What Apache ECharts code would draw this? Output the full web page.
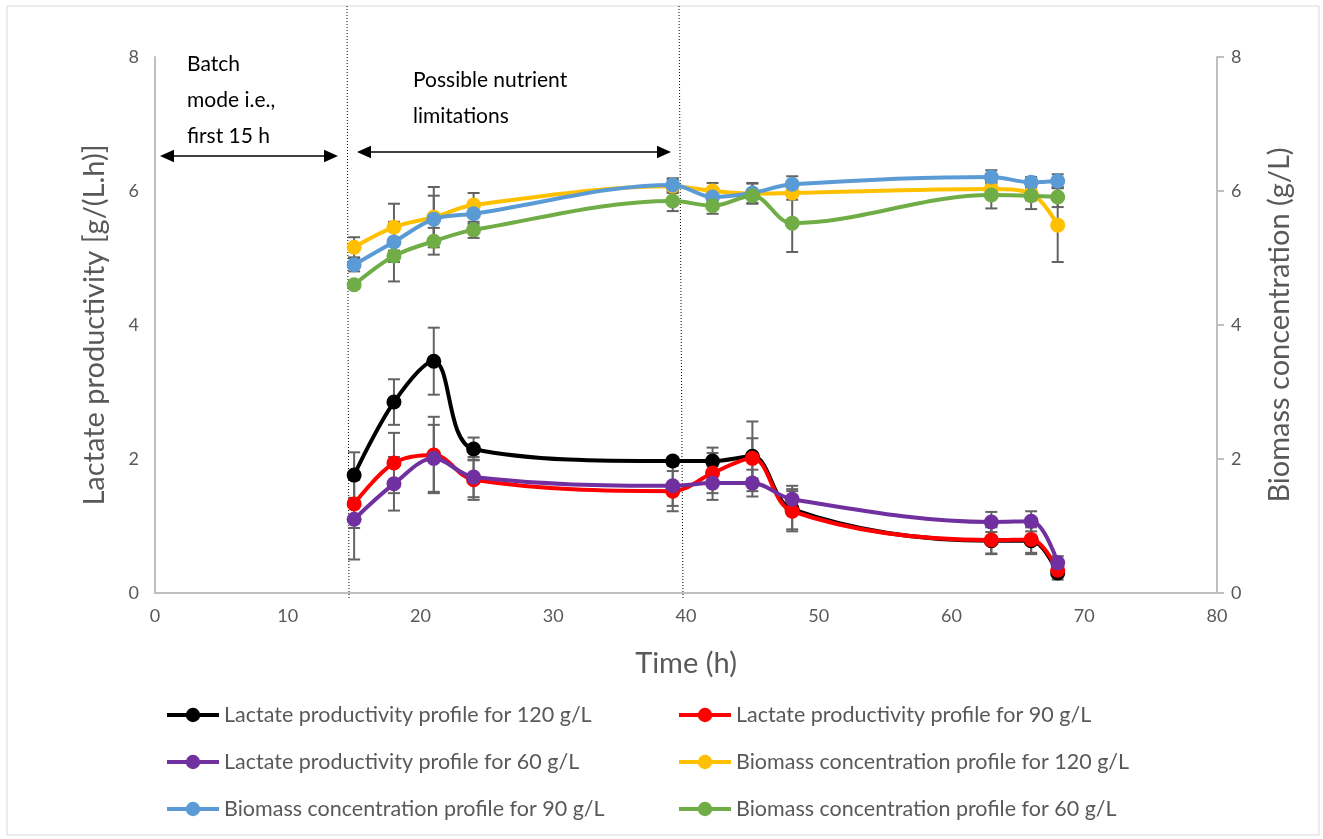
<!DOCTYPE html>
<html lang="en" style="height: 100%">
<head>
    <meta charset="utf-8">
    <title>Lactate productivity and biomass</title>
    <script src="https://cdn.jsdelivr.net/npm/echarts@6.0.0/dist/echarts.min.js"></script>
    <style>
        html, body { margin: 0; padding: 0; background: #fff; }
    </style>
</head>
<body>
<div id="chart" style="width:1323px; height:839px;"></div>

<script type="text/javascript">
    var myChart = echarts.init(document.getElementById('chart'));

    // sampling times (h)
    var times = [15, 18, 21, 24, 39, 42, 45, 48, 63, 66, 68];

    // lactate productivity g/(L.h)
    var lact120 = [1.76, 2.85, 3.46, 2.15, 1.97, 1.97, 2.04, 1.25, 0.78, 0.78, 0.3];
    var lact90  = [1.33, 1.94, 2.06, 1.69, 1.52, 1.79, 2.01, 1.22, 0.79, 0.80, 0.34];
    var lact60  = [1.10, 1.63, 2.01, 1.73, 1.60, 1.64, 1.64, 1.40, 1.06, 1.07, 0.45];
    var lact120Err = [0.34, 0.34, 0.50, 0.17, 0.05, 0.20, 0.52, 0.30, 0.20, 0.20, 0.10];
    var lact90Err  = [0.36, 0.45, 0.57, 0.30, 0.30, 0.30, 0.30, 0.30, 0.20, 0.20, 0.10];
    var lact60Err  = [0.60, 0.40, 0.50, 0.30, 0.30, 0.25, 0.20, 0.20, 0.15, 0.15, 0.10];

    // biomass concentration g/L
    var bio120 = [5.16, 5.46, 5.61, 5.79, 6.07, 6.00, 5.96, 5.97, 6.03, 5.96, 5.49];
    var bio90  = [4.90, 5.24, 5.58, 5.66, 6.09, 5.91, 5.97, 6.10, 6.21, 6.13, 6.15];
    var bio60  = [4.60, 5.03, 5.25, 5.42, 5.85, 5.78, 5.93, 5.52, 5.94, 5.93, 5.91];
    var bio120Err = [0.15, 0.35, 0.45, 0.18, 0.10, 0.12, 0.15, 0.10, 0.10, 0.10, 0.55];
    var bio90Err  = [0.10, 0.30, 0.35, 0.15, 0.10, 0.10, 0.15, 0.12, 0.10, 0.08, 0.10];
    var bio60Err  = [0.06, 0.38, 0.20, 0.12, 0.15, 0.12, 0.05, 0.43, 0.20, 0.20, 0.15];

    var names = [
        'Lactate productivity profile for 120 g/L',
        'Lactate productivity profile for 90 g/L',
        'Lactate productivity profile for 60 g/L',
        'Biomass concentration profile for 120 g/L',
        'Biomass concentration profile for 90 g/L',
        'Biomass concentration profile for 60 g/L'
    ];
    var colors = ['#000000', '#ff0000', '#7030a0', '#ffc000', '#5b9bd5', '#70ad47'];
    var values = [lact120, lact90, lact60, bio120, bio90, bio60];
    var errors = [lact120Err, lact90Err, lact60Err, bio120Err, bio90Err, bio60Err];

    var font = 'Lato, "Open Sans", sans-serif';

    function pairs(vals) {
        return times.map(function (t, i) { return [t, vals[i]]; });
    }

    function errData(vals, errs) {
        return times.map(function (t, i) { return [t, vals[i] - errs[i], vals[i] + errs[i]]; });
    }

    function renderErr(params, api) {
        var lo = api.coord([api.value(0), api.value(1)]);
        var hi = api.coord([api.value(0), api.value(2)]);
        var w = 6;
        var st = { stroke: '#636363', lineWidth: 2 };
        return {
            type: 'group',
            children: [
                { type: 'line', shape: { x1: lo[0], y1: lo[1], x2: hi[0], y2: hi[1] }, style: st },
                { type: 'line', shape: { x1: lo[0] - w, y1: lo[1], x2: lo[0] + w, y2: lo[1] }, style: st },
                { type: 'line', shape: { x1: hi[0] - w, y1: hi[1], x2: hi[0] + w, y2: hi[1] }, style: st }
            ]
        };
    }

    var series = [];
    values.forEach(function (vals, k) {
        series.push({
            type: 'custom',
            yAxisIndex: k < 3 ? 0 : 1,
            renderItem: renderErr,
            data: errData(vals, errors[k]),
            z: 1,
            silent: true
        });
    });
    values.forEach(function (vals, k) {
        series.push({
            name: names[k],
            type: 'line',
            yAxisIndex: k < 3 ? 0 : 1,
            smooth: 0.35,
            symbol: 'circle',
            symbolSize: 15,
            data: pairs(vals),
            lineStyle: { color: colors[k], width: 4 },
            itemStyle: { color: colors[k] },
            z: 2 + k
        });
    });

    function arrow(x1, x2, y) {
        var h = 8, l = 14;
        return [
            { type: 'line', shape: { x1: x1 + 4, y1: y, x2: x2 - 4, y2: y }, style: { stroke: '#000', lineWidth: 1.5 } },
            { type: 'polygon', shape: { points: [[x1, y], [x1 + l, y - h / 1.3], [x1 + l, y + h / 1.3]] }, style: { fill: '#000' } },
            { type: 'polygon', shape: { points: [[x2, y], [x2 - l, y - h / 1.3], [x2 - l, y + h / 1.3]] }, style: { fill: '#000' } }
        ];
    }

    var legendText = { color: '#595959', fontSize: 21.5, fontFamily: font };
    var titleText = { color: '#595959', fontSize: 29, fontFamily: font };
    var tickText = { color: '#595959', fontSize: 18, fontFamily: font };

    myChart.setOption({
        animation: false,
        color: colors,
        grid: { left: 155, right: 106, top: 57, bottom: 246 },
        xAxis: {
            type: 'value',
            min: 0, max: 80, interval: 10,
            name: 'Time (h)',
            nameLocation: 'middle',
            nameGap: 56,
            nameTextStyle: titleText,
            axisLine: { lineStyle: { color: '#bfbfbf', width: 2 } },
            axisTick: { show: false },
            axisLabel: Object.assign({ margin: 14 }, tickText),
            splitLine: { show: false }
        },
        yAxis: [{
            type: 'value',
            min: 0, max: 8, interval: 2,
            name: 'Lactate productivity [g/(L.h)]',
            nameLocation: 'middle',
            nameGap: 46,
            nameTextStyle: titleText,
            axisLine: { show: true, lineStyle: { color: '#bfbfbf', width: 2 } },
            axisTick: { show: false },
            axisLabel: Object.assign({ margin: 16 }, tickText),
            splitLine: { show: false }
        }, {
            type: 'value',
            min: 0, max: 8, interval: 2,
            name: 'Biomass concentration (g/L)',
            nameLocation: 'middle',
            nameGap: 48,
            nameTextStyle: titleText,
            axisLine: { show: true, lineStyle: { color: '#bfbfbf', width: 2 } },
            axisTick: { show: true, length: 7, lineStyle: { color: '#bfbfbf', width: 2 } },
            axisLabel: Object.assign({ margin: 14 }, tickText),
            splitLine: { show: false }
        }],
        legend: [{
            left: 160, top: 699,
            orient: 'vertical',
            itemWidth: 52, itemHeight: 18, itemGap: 25,
            lineStyle: { width: 4 },
            textStyle: legendText,
            data: [names[0], names[2], names[4]]
        }, {
            left: 672, top: 699,
            orient: 'vertical',
            itemWidth: 52, itemHeight: 18, itemGap: 25,
            lineStyle: { width: 4 },
            textStyle: legendText,
            data: [names[1], names[3], names[5]]
        }],
        graphic: [
            { type: 'rect', shape: { x: 7, y: 6, width: 1312, height: 829 }, style: { fill: null, stroke: '#d9d9d9', lineWidth: 1 }, silent: true },
            { type: 'line', shape: { x1: 347, y1: 6, x2: 349, y2: 600 }, style: { stroke: '#000', lineWidth: 1, lineDash: [1, 2] } },
            { type: 'line', shape: { x1: 679, y1: 6, x2: 683, y2: 600 }, style: { stroke: '#000', lineWidth: 1, lineDash: [1, 2] } },
            { type: 'text', left: 187, top: 46, style: { text: 'Batch\nmode i.e.,\nfirst 15 h', fontSize: 21, lineHeight: 36, fill: '#000', fontFamily: font } },
            { type: 'text', left: 413, top: 62, style: { text: 'Possible nutrient\nlimitations', fontSize: 21, lineHeight: 36, fill: '#000', fontFamily: font } },
            { type: 'group', children: arrow(160, 338, 156) },
            { type: 'group', children: arrow(357, 671, 152) }
        ],
        series: series
    });
</script>
</body>
</html>
